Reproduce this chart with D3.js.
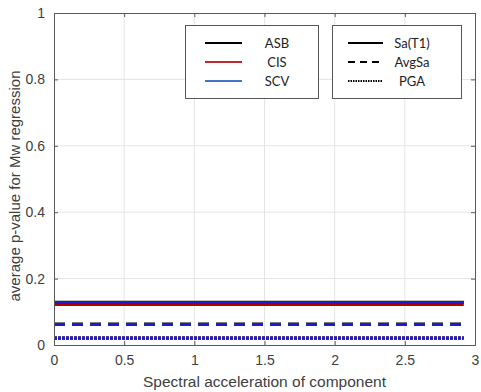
<!DOCTYPE html>
<html>
<head>
<meta charset="utf-8">
<script src="https://cdn.jsdelivr.net/npm/d3@7"></script>
<style>
  html, body { margin: 0; padding: 0; background: #fff; }
  svg { display: block; }
</style>
</head>
<body>
<svg id="chart" width="481" height="392"></svg>
<script>
// ---- data ----
const xExtent = [0, 2.92];                 // component spectral acceleration range
const sites = ["ASB", "CIS", "SCV"];
const measures = ["Sa(T1)", "AvgSa", "PGA"];
const valuesSaT1 = [0.129, 0.122, 0.128];  // ASB, CIS, SCV
const valuesAvgSa = [0.063, 0.062, 0.062];
const valuesPGA = [0.021, 0.020, 0.021];
const xTicks = [0, 0.5, 1, 1.5, 2, 2.5, 3];
const yTicks = [0, 0.2, 0.4, 0.6, 0.8, 1];
const xLabel = "Spectral acceleration of component";
const yLabel = "average p-value for Mw regression";

// ---- styles ----
const siteColors = ["#000000", "#b00000", "#1c1cc8"];
const legendSiteColors = ["#000000", "#c0282d", "#4472c4"];
const measureDash = [null, "11,7", "3,1"];

const svg = d3.select("#chart");
const margin = { left: 54, right: 6, top: 13, bottom: 47 };
const W = 481, H = 392;
const x = d3.scaleLinear().domain([0, 3]).range([margin.left, W - margin.right]);
const y = d3.scaleLinear().domain([0, 1]).range([H - margin.bottom, margin.top]);

const axisColor = "#5a5a5a";
const textColor = "#404040";

// grid
const g = svg.append("g");
g.selectAll(".gx").data(xTicks.slice(1, -1)).enter().append("line")
  .attr("x1", d => x(d)).attr("x2", d => x(d))
  .attr("y1", y(0)).attr("y2", y(1))
  .attr("stroke", "#e4e4e4").attr("stroke-width", 1);
g.selectAll(".gy").data(yTicks.slice(1, -1)).enter().append("line")
  .attr("x1", x(0)).attr("x2", x(3))
  .attr("y1", d => y(d)).attr("y2", d => y(d))
  .attr("stroke", "#e4e4e4").attr("stroke-width", 1);

// data lines
const series = [valuesSaT1, valuesAvgSa, valuesPGA];
const line = d3.line().x(d => x(d[0])).y(d => y(d[1]));
series.forEach((vals, mi) => {
  sites.forEach((s, si) => {
    const pts = xExtent.map(xv => [xv, vals[si]]);
    svg.append("path")
      .attr("d", line(pts))
      .attr("fill", "none")
      .attr("stroke", siteColors[si])
      .attr("stroke-width", 3)
      .attr("stroke-dasharray", measureDash[mi]);
  });
});

// axes
const xAxisB = d3.axisBottom(x).tickValues(xTicks).tickSize(-4).tickPadding(10)
  .tickFormat(d3.format("~g"));
const yAxisL = d3.axisLeft(y).tickValues(yTicks).tickSize(-4).tickPadding(9)
  .tickFormat(d3.format("~g"));
const xAxisT = d3.axisTop(x).tickValues(xTicks).tickSize(-4).tickFormat("");
const yAxisR = d3.axisRight(y).tickValues(yTicks).tickSize(-4).tickFormat("");

function styleAxis(sel) {
  sel.selectAll("path.domain").attr("stroke", axisColor).attr("stroke-width", 1);
  sel.selectAll(".tick line").attr("stroke", axisColor);
  sel.selectAll("text").attr("fill", textColor)
    .style("font-family", "'Liberation Sans', Arial, sans-serif").style("font-size", "14px");
}
svg.append("g").attr("transform", `translate(0,${y(0)})`).call(xAxisB).call(styleAxis);
svg.append("g").attr("transform", `translate(${x(0)},0)`).call(yAxisL).call(styleAxis);
svg.append("g").attr("transform", `translate(0,${y(1)})`).call(xAxisT).call(styleAxis);
svg.append("g").attr("transform", `translate(${x(3)},0)`).call(yAxisR).call(styleAxis);

// axis labels
svg.append("text").attr("x", (x(0) + x(3)) / 2).attr("y", 387)
  .attr("text-anchor", "middle").attr("fill", textColor)
  .style("font-family", "'Liberation Sans', Arial, sans-serif").style("font-size", "15.5px")
  .text(xLabel);
svg.append("text")
  .attr("transform", `translate(20,186) rotate(-90)`)
  .attr("text-anchor", "middle").attr("fill", textColor)
  .style("font-family", "'Liberation Sans', Arial, sans-serif").style("font-size", "15px")
  .text(yLabel);

// legends
const legFont = "Lato, 'Open Sans', sans-serif";
function legendBox(x0, x1, items, colors, dashes, lineX0, lineX1, textX) {
  const lg = svg.append("g");
  lg.append("rect").attr("x", x0 + 0.5).attr("y", 25.5).attr("width", x1 - x0).attr("height", 73)
    .attr("fill", "#fff").attr("stroke", "#555").attr("stroke-width", 1);
  items.forEach((t, i) => {
    const yy = 43 + i * 19;
    lg.append("line").attr("x1", lineX0).attr("x2", lineX1).attr("y1", yy).attr("y2", yy)
      .attr("stroke", colors[i]).attr("stroke-width", 2)
      .attr("stroke-dasharray", dashes[i]);
    lg.append("text").attr("x", textX).attr("y", yy + 4.5).attr("text-anchor", "middle")
      .attr("fill", "#222").style("font-family", legFont).style("font-size", "13px").text(t);
  });
}
legendBox(185, 318, sites, legendSiteColors, [null, null, null], 205, 242, 277);
legendBox(332, 461, measures, ["#000", "#000", "#000"], [null, "7,5", "1.5,1"], 348, 383, 412);
</script>
</body>
</html>
